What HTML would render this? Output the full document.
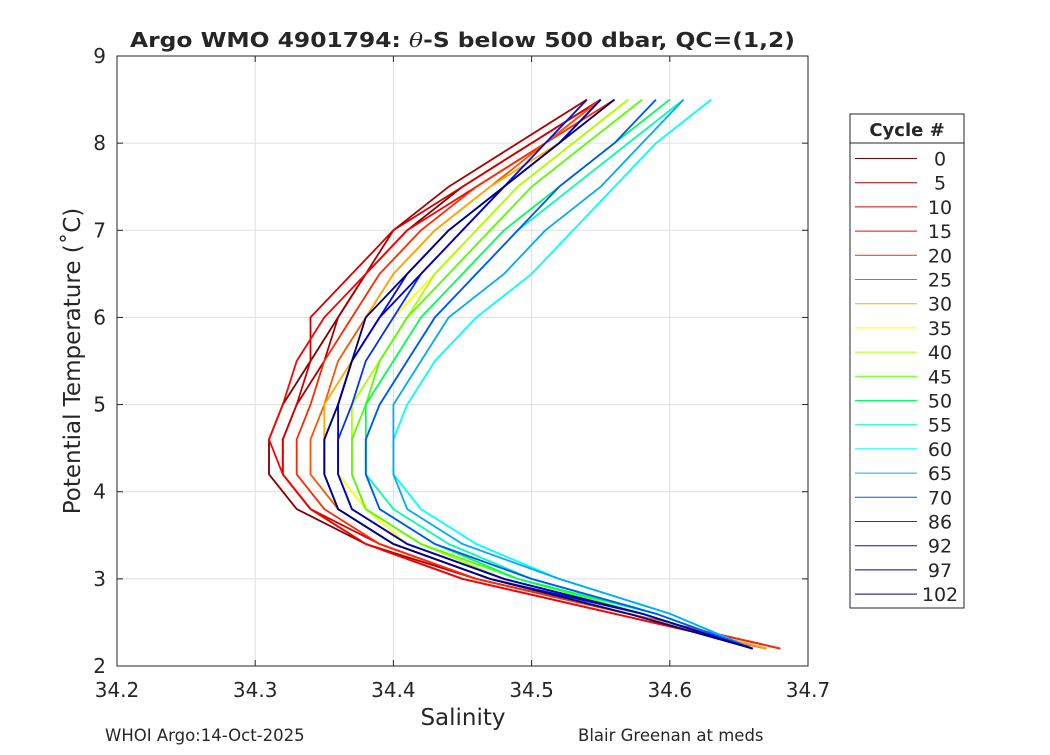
<!DOCTYPE html>
<html><head><meta charset="utf-8"><style>
body{margin:0;background:#fff;}
svg text{font-family:"DejaVu Sans","Liberation Sans",sans-serif;fill:#262626;}
</style></head><body>
<svg id="chart" width="1050" height="750" viewBox="0 0 1050 750" xmlns="http://www.w3.org/2000/svg">
<rect x="0" y="0" width="1050" height="750" fill="#fff"/>
<text x="130" y="47" font-size="20" font-weight="bold" textLength="665" lengthAdjust="spacingAndGlyphs">Argo WMO 4901794: <tspan font-style="italic" font-weight="normal" font-family="DejaVu Serif,serif">θ</tspan>-S below 500 dbar,  QC=(1,2)</text>
<g id="grid"></g>
<g id="lines"></g>
<rect x="117" y="56" width="691" height="610" fill="none" stroke="#262626" stroke-width="1"/>
<g id="ticks"></g>
<text x="463" y="725" text-anchor="middle" font-size="23">Salinity</text>
<text transform="translate(80,361) rotate(-90)" text-anchor="middle" font-size="23">Potential Temperature (˚C)</text>
<g id="legend"></g>
<text x="105" y="741" font-size="16.5">WHOI Argo:14-Oct-2025</text>
<text x="578" y="741" font-size="16.5">Blair Greenan at meds</text>
</svg>
<script>
const temps=[2.2,2.6,3.0,3.4,3.8,4.2,4.6,5.0,5.5,6.0,6.5,7.0,7.5,8.0,8.5];
const cycles=["0","5","10","15","20","25","30","35","40","45","50","55","60","65","70","86","92","97","102"];
const colors=["#800000","#aa0000","#d40000","#ff0000","#ff2a00","#ff5500","#ffaa00","#ffff00","#aaff00","#55ff00","#00ff55","#00ffaa","#00ffff","#00aaff","#0055ff","#0033ff","#0011dd","#0000bb","#000080"];
const sal=[
[34.67,34.56,34.45,34.38,34.33,34.31,34.31,34.32,34.34,34.36,34.38,34.41,34.45,34.50,34.55],
[34.68,34.57,34.46,34.38,34.34,34.32,34.32,34.33,34.35,34.36,34.38,34.40,34.44,34.49,34.54],
[34.68,34.57,34.46,34.39,34.34,34.32,34.32,34.33,34.34,34.34,34.37,34.40,34.45,34.50,34.55],
[34.67,34.56,34.45,34.38,34.34,34.32,34.31,34.32,34.33,34.35,34.38,34.41,34.46,34.51,34.55],
[34.68,34.57,34.46,34.39,34.35,34.33,34.33,34.34,34.35,34.37,34.39,34.42,34.46,34.51,34.56],
[34.67,34.57,34.47,34.40,34.36,34.34,34.34,34.35,34.36,34.38,34.40,34.43,34.47,34.51,34.55],
[34.67,34.57,34.47,34.40,34.36,34.35,34.35,34.35,34.37,34.38,34.40,34.43,34.47,34.52,34.56],
[34.66,34.58,34.48,34.41,34.38,34.36,34.36,34.37,34.38,34.40,34.43,34.46,34.49,34.53,34.57],
[34.66,34.58,34.48,34.42,34.38,34.37,34.37,34.37,34.39,34.41,34.43,34.46,34.49,34.53,34.57],
[34.66,34.58,34.49,34.42,34.38,34.37,34.37,34.38,34.39,34.41,34.44,34.47,34.50,34.54,34.58],
[34.66,34.59,34.49,34.43,34.39,34.38,34.38,34.38,34.40,34.42,34.45,34.48,34.52,34.56,34.60],
[34.66,34.59,34.50,34.44,34.40,34.38,34.38,34.39,34.41,34.43,34.46,34.49,34.53,34.57,34.61],
[34.66,34.60,34.52,34.46,34.42,34.40,34.40,34.41,34.43,34.46,34.50,34.53,34.56,34.59,34.63],
[34.66,34.60,34.52,34.45,34.41,34.40,34.40,34.40,34.42,34.44,34.48,34.51,34.55,34.58,34.61],
[34.66,34.59,34.50,34.43,34.39,34.38,34.38,34.39,34.41,34.43,34.46,34.49,34.52,34.56,34.59],
[34.66,34.58,34.48,34.41,34.37,34.36,34.36,34.37,34.38,34.40,34.42,34.45,34.48,34.52,34.55],
[34.66,34.58,34.47,34.40,34.36,34.35,34.35,34.36,34.37,34.39,34.41,34.44,34.48,34.51,34.54],
[34.66,34.58,34.48,34.41,34.37,34.36,34.36,34.36,34.37,34.39,34.42,34.45,34.48,34.52,34.55],
[34.66,34.57,34.47,34.40,34.36,34.35,34.35,34.36,34.37,34.38,34.41,34.44,34.48,34.52,34.56]
];
const xTicks=[34.2,34.3,34.4,34.5,34.6,34.7];
const yTicks=[2,3,4,5,6,7,8,9];
const X0=117,X1=808,Y0=666,Y1=56;
function sx(s){return X0+(s-34.2)/0.5*(X1-X0);}
function sy(t){return Y0-(t-2)/7*(Y0-Y1);}
const NS="http://www.w3.org/2000/svg";
function mk(tag,attrs,parent){const e=document.createElementNS(NS,tag);for(const k in attrs)e.setAttribute(k,attrs[k]);parent.appendChild(e);return e;}
const grid=document.getElementById('grid'),ticks=document.getElementById('ticks');
xTicks.forEach(v=>{
  const x=sx(v);
  const g=mk('line',{x1:x,x2:x,y1:Y1,y2:Y0,stroke:'#dfdfdf','stroke-width':1},grid);
  
  
  mk('line',{x1:x,x2:x,y1:Y0,y2:Y0-6,stroke:'#262626'},ticks);
  mk('line',{x1:x,x2:x,y1:Y1,y2:Y1+6,stroke:'#262626'},ticks);
  const t=mk('text',{x:x,y:Y0+31,'text-anchor':'middle','font-size':20},ticks);
  t.textContent=v.toFixed(1);
  
  
});
yTicks.forEach(v=>{
  const y=sy(v);
  const g=mk('line',{x1:X0,x2:X1,y1:y,y2:y,stroke:'#dfdfdf','stroke-width':1},grid);
  
  
  mk('line',{x1:X0,x2:X0+6,y1:y,y2:y,stroke:'#262626'},ticks);
  mk('line',{x1:X1,x2:X1-6,y1:y,y2:y,stroke:'#262626'},ticks);
  const t=mk('text',{x:X0-11,y:y+7,'text-anchor':'end','font-size':20},ticks);
  t.textContent=String(v);
  
  
});
const lines=document.getElementById('lines');
sal.forEach((arr,i)=>{
  const pts=arr.map((s,j)=>sx(s).toFixed(1)+','+sy(temps[j]).toFixed(1)).join(' ');
  const p=mk('polyline',{points:pts,fill:'none',stroke:colors[i],'stroke-width':1.8,'stroke-linejoin':'round'},lines);
  
  
});
const lg=document.getElementById('legend');
mk('rect',{x:850,y:114,width:114,height:494,fill:'#fff',stroke:'#262626'},lg);
mk('line',{x1:850,x2:964,y1:143,y2:143,stroke:'#262626'},lg);
const lt=mk('text',{x:907,y:136,'text-anchor':'middle','font-size':18,'font-weight':'bold'},lg);
lt.textContent='Cycle #';


cycles.forEach((c,i)=>{
  const y=158.5+i*24.2;
  const l=mk('line',{x1:855,x2:917,y1:y,y2:y,stroke:colors[i],'stroke-width':1},lg);
  
  
  const t=mk('text',{x:940,y:y+7,'text-anchor':'middle','font-size':19},lg);
  t.textContent=c;
  
  
});
</script>
</body></html>
